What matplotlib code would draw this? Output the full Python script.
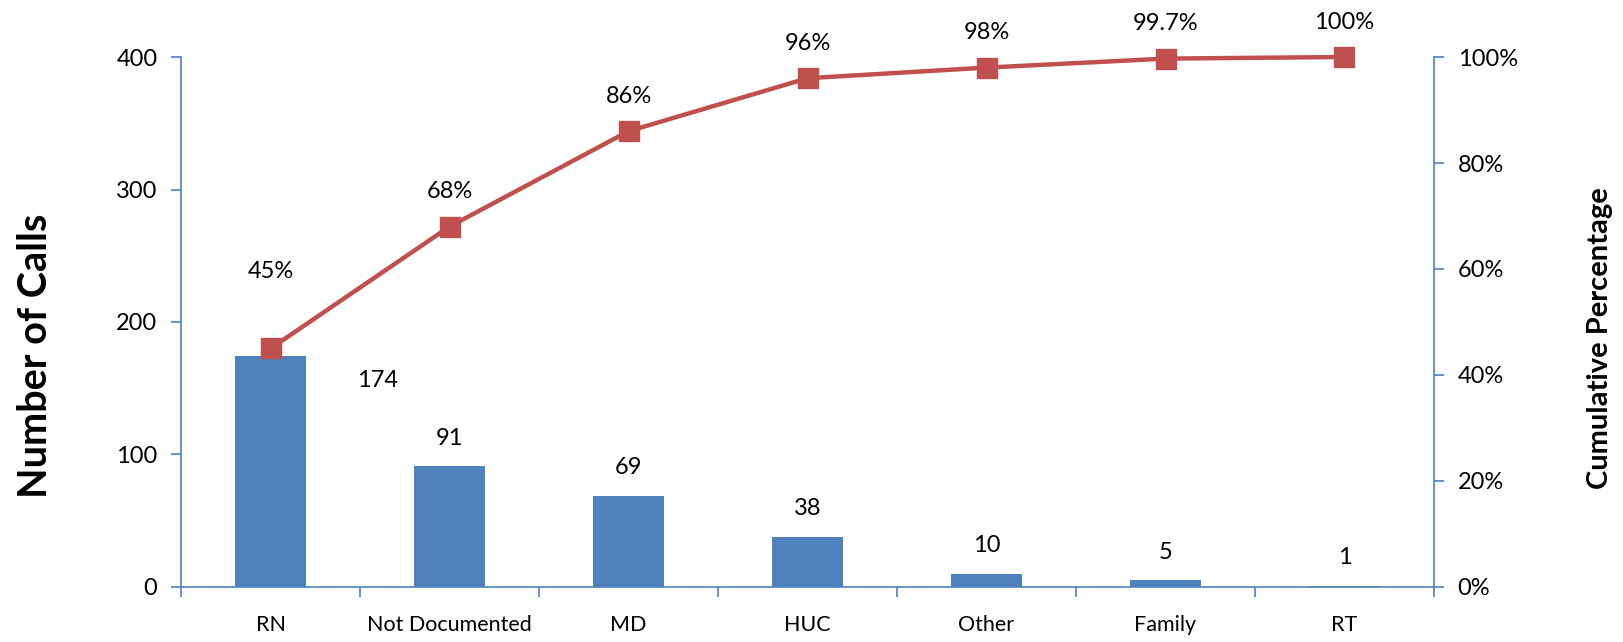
import numpy as np
import matplotlib.pyplot as plt
from matplotlib.ticker import FuncFormatter

plt.rcParams['font.family'] = ['Lato', 'DejaVu Sans']

categories = ['RN', 'Not Documented', 'MD', 'HUC', 'Other', 'Family', 'RT']
calls = [174, 91, 69, 38, 10, 5, 1]
cum_pct = [45, 68, 86, 96, 98, 99.7, 100]
pct_labels = ['45%', '68%', '86%', '96%', '98%', '99.7%', '100%']

BAR = '#4F81BD'
LINE = '#C0504D'
AXIS = '#4F81BD'

fig = plt.figure(figsize=(16.24, 6.42), dpi=100)
ax = fig.add_axes([0.1115, 0.0857, 0.7715, 0.8255])
ax2 = ax.twinx()

x = np.arange(len(categories))
ax.bar(x, calls, width=0.4, color=BAR, zorder=2)

# value labels over the bars; the first one sits off to the right
for i, v in enumerate(calls):
    if i == 0:
        ax.text(i + 0.6, v - 18.5, str(v), ha='center', va='center', fontsize=17)
    else:
        ax.text(i, v + 21, str(v), ha='center', va='center', fontsize=17)

ax.set_xlim(-0.5, len(categories) - 0.5)
ax.set_ylim(0, 400)
ax.set_yticks([0, 100, 200, 300, 400])
ax.set_xticks(np.arange(-0.5, len(categories), 1))
ax.set_xticklabels([])
ax.set_xticks(x, minor=True)
ax.set_xticklabels(categories, minor=True, fontsize=15.5)
ax.tick_params(axis='x', which='major', length=7, width=1.2, color=AXIS, direction='out')
ax.tick_params(axis='x', which='minor', length=0, pad=20)
ax.tick_params(axis='y', length=7, width=1.2, color=AXIS, labelsize=17, pad=10)
ax.set_ylabel('Number of Calls', fontsize=28.5, fontweight='bold', va='center')
ax.yaxis.set_label_coords(-0.116, 0.436)

# cumulative line, kept unclipped so the 100% marker shows whole
ax2.plot(x, cum_pct, color=LINE, lw=3.2, marker='s', markersize=14, zorder=3,
         clip_on=False)
for i, (v, lab) in enumerate(zip(cum_pct, pct_labels)):
    off = 14.6 if i == 0 else 6.6
    ax2.text(i, v + off, lab, ha='center', va='center', fontsize=17)
ax2.set_ylim(0, 100)
ax2.set_yticks([0, 20, 40, 60, 80, 100])
ax2.yaxis.set_major_formatter(FuncFormatter(lambda v, p: f'{v:.0f}%'))
ax2.tick_params(axis='y', length=7, width=1.2, color=AXIS, labelsize=17, pad=10)
ax2.set_ylabel('Cumulative Percentage', fontsize=21, fontweight='bold', va='center')
ax2.yaxis.set_label_coords(1.1325, 0.47)

for a in (ax, ax2):
    a.spines['top'].set_visible(False)
    for s in ('left', 'right', 'bottom'):
        a.spines[s].set_color(AXIS)
        a.spines[s].set_linewidth(1.2)
ax.spines['right'].set_visible(False)
ax2.spines['left'].set_visible(False)
ax2.spines['bottom'].set_visible(False)

fig.savefig('out.png', dpi=100)
